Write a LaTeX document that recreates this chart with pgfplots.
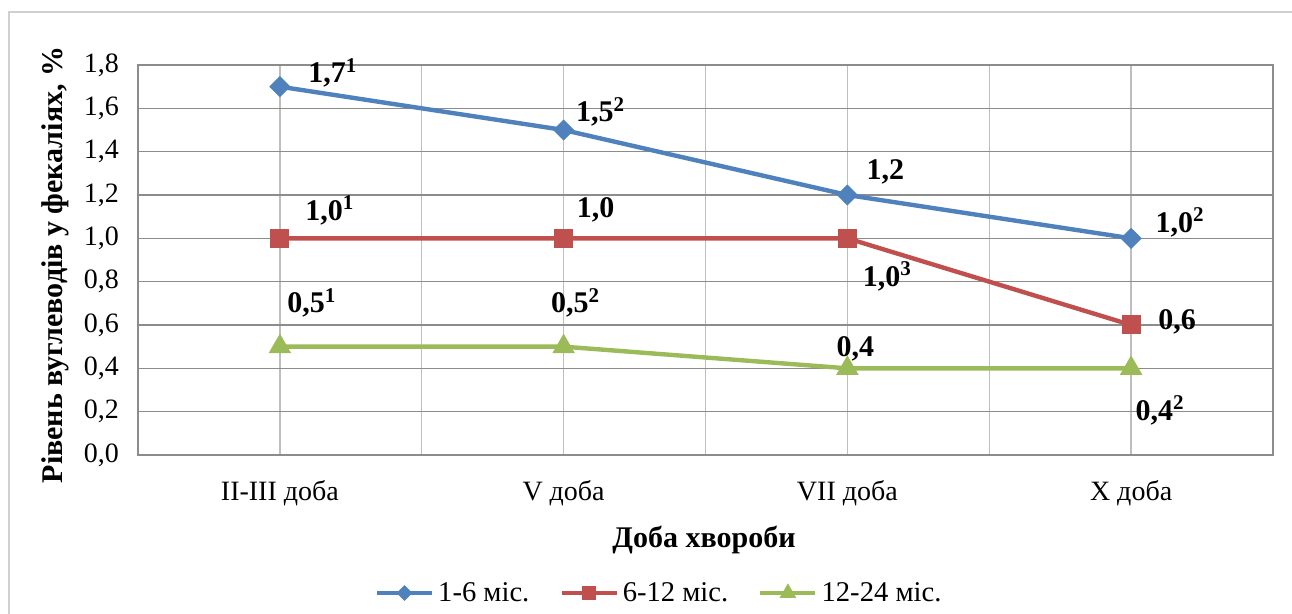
\documentclass[border=0pt]{standalone}
\usepackage{pgfplots}
\pgfplotsset{compat=1.18}
\usepackage{fontspec}
\setmainfont{Liberation Serif}
\definecolor{cblue}{HTML}{4F81BD}
\definecolor{cred}{HTML}{C0504D}
\definecolor{cgreen}{HTML}{9BBB59}
\definecolor{hgrid}{HTML}{8C8C8C}
\definecolor{vgrid}{HTML}{BEBEBE}
\definecolor{outer}{HTML}{D0D0D0}
\begin{document}
\begin{tikzpicture}
\path[use as bounding box] (0,0) rectangle (646pt,-307pt);
\draw[color=outer, line width=0.7pt] (4.5pt,-330pt) -- (4.5pt,-6pt) -- (670pt,-6pt);
\begin{axis}[
  at={(69pt,-227.5pt)}, anchor=south west,
  scale only axis, width=567.5pt, height=195pt,
  xmin=-0.5, xmax=3.5, ymin=0, ymax=1.8,
  xtick={0,1,2,3},
  xticklabels={II-III доба, V доба, VII доба, X доба},
  minor xtick={0.5,1.5,2.5},
  ytick={0,0.2,0.4,0.6,0.8,1.0,1.2,1.4,1.6,1.8},
  yticklabel style={/pgf/number format/fixed, /pgf/number format/fixed zerofill, /pgf/number format/precision=1, /pgf/number format/use comma, /pgf/number format/assume math mode=true, xshift=-6pt, font=\fontsize{14}{16}\selectfont},
  xticklabel style={yshift=-9pt, font=\fontsize{14}{16}\selectfont},
  major tick length=0pt, minor tick length=0pt,
  xmajorgrids, xminorgrids, ymajorgrids,
  major grid style={line width=0.7pt},
  minor grid style={color=vgrid, line width=0.7pt},
  x grid style={color=vgrid},
  y grid style={color=hgrid},
  axis line style={color=hgrid, line width=0.8pt},
  legend style={at={(0.46,-0.354)}, anchor=center, draw=none, legend columns=3,
    font=\fontsize{14.3}{16}\selectfont,
    /tikz/every even column/.append style={column sep=13pt}},
  legend image code/.code={\draw[mark repeat=2,mark phase=2, every mark/.append style={scale=0.72}] plot coordinates {(0pt,0pt)(13.75pt,0pt)(27.5pt,0pt)};},
  clip=false,
]
\addplot[color=cblue, line width=2.2pt, mark=square*, mark size=3.5pt, mark options={rotate=45, solid, fill=cblue, line width=0.5pt}] coordinates {(0,1.7)(1,1.5)(2,1.2)(3,1.0)};
\addlegendentry{1-6 міс.}
\addplot[color=cred, line width=2.2pt, mark=square*, mark size=4.5pt, mark options={solid, fill=cred, line width=0.5pt}] coordinates {(0,1.0)(1,1.0)(2,1.0)(3,0.6)};
\addlegendentry{6-12 міс.}
\addplot[color=cgreen, line width=2.2pt, mark=triangle*, mark size=6pt, mark options={solid, fill=cgreen, line width=0.5pt}] coordinates {(0,0.5)(1,0.5)(2,0.4)(3,0.4)};
\addlegendentry{12-24 міс.}

\begin{scope}[every node/.style={font=\bfseries\fontsize{15}{17}\selectfont, inner sep=0pt}]
\node at (axis cs:0,1.7) [xshift=26.5pt, yshift=6.9pt] {1,7\textsuperscript{1}};
\node at (axis cs:1,1.5) [xshift=18.5pt, yshift=9pt] {1,5\textsuperscript{2}};
\node at (axis cs:2,1.2) [xshift=19pt, yshift=11.5pt] {1,2};
\node at (axis cs:3,1.0) [xshift=24.5pt, yshift=8pt] {1,0\textsuperscript{2}};
\node at (axis cs:0,1.0) [xshift=25pt, yshift=14pt] {1,0\textsuperscript{1}};
\node at (axis cs:1,1.0) [xshift=16pt, yshift=14pt] {1,0};
\node at (axis cs:2,1.0) [xshift=20pt, yshift=-19pt] {1,0\textsuperscript{3}};
\node at (axis cs:3,0.6) [xshift=23pt, yshift=1.5pt] {0,6};
\node at (axis cs:0,0.5) [xshift=16pt, yshift=22pt] {0,5\textsuperscript{1}};
\node at (axis cs:1,0.5) [xshift=6pt, yshift=22pt] {0,5\textsuperscript{2}};
\node at (axis cs:2,0.4) [xshift=4pt, yshift=9.5pt] {0,4};
\node at (axis cs:3,0.4) [xshift=14.5pt, yshift=-21pt] {0,4\textsuperscript{2}};
\end{scope}
\end{axis}
\node[rotate=90, font=\bfseries\fontsize{15}{17}\selectfont] at (27.5pt,-132.5pt) {Рівень вуглеводів у фекаліях, \%};
\node[font=\bfseries\fontsize{15}{17}\selectfont] at (352pt,-270pt) {Доба хвороби};
\end{tikzpicture}
\end{document}
